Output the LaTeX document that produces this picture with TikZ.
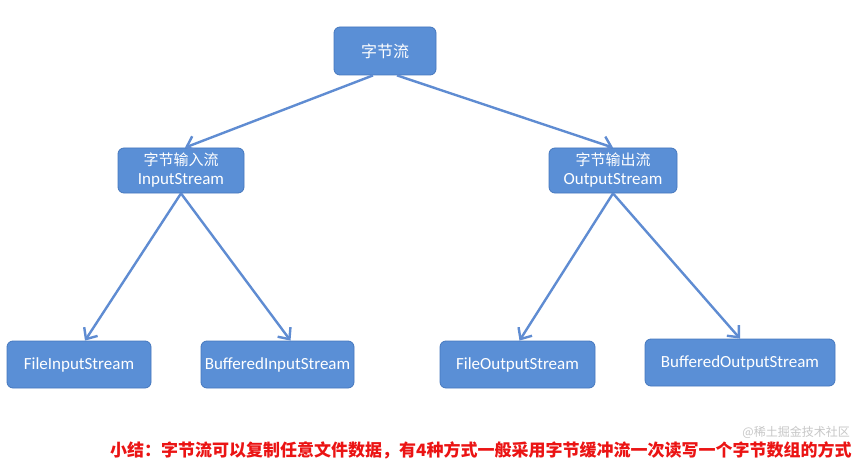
\documentclass[tikz,border=0pt]{standalone}
\usepackage{fontspec}
\setmainfont{Carlito}
\newfontfamily\cjk{Noto Sans CJK SC}
\usetikzlibrary{arrows.meta}
\definecolor{boxfill}{RGB}{90,143,214}
\definecolor{boxline}{RGB}{70,120,190}
\definecolor{arrowcol}{RGB}{95,140,210}
\definecolor{redtxt}{RGB}{235,20,20}
\tikzset{
  box/.style={draw=boxline, line width=0.8pt, fill=boxfill, rounded corners=6pt,
    text=white, align=center, inner sep=0pt, font=\fontsize{17}{19}\selectfont},
  conn/.style={draw=arrowcol, line width=2.4pt, -{Straight Barb[length=9pt,width=16pt,line width=2.4pt]}},
}
\begin{document}
\begin{tikzpicture}[x=1pt,y=-1pt]
\useasboundingbox (0,0) rectangle (858,465);
\fill[white] (0,0) rectangle (858,465);
\node[box, minimum width=102pt, minimum height=48pt, font=\fontsize{16}{19}\selectfont] (root) at (385,51) {\cjk 字节流};
\node[box, minimum width=126pt, minimum height=45pt] (in) at (181,170.5) {{\cjk\fontsize{15}{19}\selectfont 字节输入流}\\InputStream};
\node[box, minimum width=128pt, minimum height=45pt] (out) at (613,170.5) {{\cjk\fontsize{15}{19}\selectfont 字节输出流}\\OutputStream};
\node[box, minimum width=144pt, minimum height=47pt] (fis) at (79,364.5) {FileInputStream};
\node[box, minimum width=153pt, minimum height=47pt] (bis) at (277.5,364.5) {BufferedInputStream};
\node[box, minimum width=155pt, minimum height=47pt] (fos) at (517.5,364.5) {FileOutputStream};
\node[box, minimum width=190pt, minimum height=47pt] (bos) at (740,362.5) {BufferedOutputStream};
\draw[conn] ([xshift=-12pt]root.south) -- ([xshift=4pt]in.north);
\draw[conn] ([xshift=12pt]root.south) -- ([xshift=0pt]out.north);
\draw[conn] (in.south) -- ([xshift=6pt]fis.north);
\draw[conn] (in.south) -- ([xshift=13pt]bis.north);
\draw[conn] (out.south) -- ([xshift=2pt]fos.north);
\draw[conn] (out.south) -- ([xshift=0pt]bos.north);
\node[anchor=base west, text=redtxt, font=\cjk\bfseries\fontsize{17}{19}\selectfont, inner sep=0pt] (note) at (110,456) {小结：字节流可以复制任意文件数据，有4种方式一般采用字节缓冲流一次读写一个字节数组的方式};
\node[anchor=base east, text=black!22, font=\cjk\fontsize{12}{14}\selectfont, inner sep=0pt] (wm) at (850,436) {@稀土掘金技术社区};
\end{tikzpicture}
\end{document}
